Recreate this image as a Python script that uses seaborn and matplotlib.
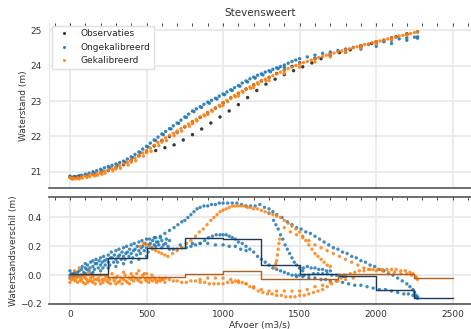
import matplotlib
matplotlib.use("Agg")
import matplotlib.pyplot as plt
from matplotlib.ticker import MultipleLocator
import pandas as pd
import seaborn as sns

# --- waterstand (top panel): (afvoer m3/s, waterstand m) ---
obs_main = [(0, 20.87), (30, 20.86), (60, 20.88), (100, 20.90), (150, 20.93), (200, 20.97),
            (250, 21.04), (300, 21.12), (350, 21.20), (400, 21.32), (450, 21.45), (500, 21.58),
            (550, 21.73), (600, 21.88), (650, 22.00), (700, 22.12), (750, 22.27), (800, 22.41),
            (850, 22.54), (900, 22.67), (950, 22.80), (1000, 22.95), (1050, 23.09), (1100, 23.22),
            (1150, 23.34), (1200, 23.46), (1250, 23.57), (1300, 23.67), (1350, 23.78), (1400, 23.88),
            (1450, 23.98), (1500, 24.08), (1600, 24.21), (1700, 24.34), (1800, 24.46), (1900, 24.57),
            (2000, 24.68), (2100, 24.79), (2200, 24.89), (2270, 24.96)]
obs_low = [(560, 21.60), (620, 21.68), (680, 21.76), (740, 21.90), (800, 22.05), (860, 22.21),
           (920, 22.38), (980, 22.55), (1040, 22.72), (1100, 22.90), (1160, 23.10), (1220, 23.30),
           (1280, 23.48), (1340, 23.62), (1400, 23.75), (1460, 23.86), (1520, 23.97), (1580, 24.08),
           (1640, 24.20), (1700, 24.29), (1760, 24.37), (1830, 24.45), (1900, 24.54), (1970, 24.63),
           (2050, 24.72), (2130, 24.82), (2200, 24.90)]

unc_main = [(0, 20.85), (25, 20.86), (50, 20.87), (75, 20.90), (100, 20.93), (125, 20.96), (150, 21.00),
            (175, 21.03), (200, 21.07), (225, 21.11), (250, 21.15), (275, 21.18), (300, 21.22),
            (325, 21.26), (350, 21.30), (375, 21.36), (400, 21.42), (425, 21.49), (450, 21.56),
            (475, 21.64), (500, 21.72), (525, 21.81), (550, 21.90), (575, 21.98), (600, 22.07),
            (625, 22.14), (650, 22.22), (675, 22.30), (700, 22.38), (725, 22.46), (750, 22.55),
            (775, 22.63), (800, 22.72), (825, 22.78), (850, 22.84), (875, 22.91), (900, 22.97),
            (925, 23.02), (950, 23.08), (975, 23.14), (1000, 23.20), (1025, 23.26), (1050, 23.32),
            (1075, 23.38), (1100, 23.44), (1125, 23.51), (1150, 23.57), (1175, 23.63), (1200, 23.68),
            (1225, 23.73), (1250, 23.77), (1275, 23.82), (1300, 23.86), (1325, 23.90), (1350, 23.94),
            (1375, 23.98), (1400, 24.02), (1425, 24.07), (1450, 24.12), (1475, 24.16), (1500, 24.20),
            (1550, 24.25), (1600, 24.30), (1650, 24.35), (1700, 24.39), (1750, 24.43), (1800, 24.47),
            (1850, 24.52), (1900, 24.56), (1950, 24.60), (2000, 24.64), (2050, 24.68), (2100, 24.72),
            (2150, 24.76), (2200, 24.79), (2250, 24.81), (2270, 24.82)]
unc_band = [(12, 20.82), (60, 20.85), (110, 20.90), (160, 20.96), (210, 21.03), (260, 21.11),
            (310, 21.18), (360, 21.27), (410, 21.40), (460, 21.54), (510, 21.70), (560, 21.88),
            (610, 22.05), (660, 22.21), (710, 22.37), (760, 22.54), (810, 22.70), (860, 22.82),
            (910, 22.94), (960, 23.06), (1010, 23.18), (1060, 23.30), (1110, 23.42), (1160, 23.54),
            (1210, 23.65), (1260, 23.74), (1310, 23.83), (1360, 23.92)]
unc_low = [(1400, 23.95), (1500, 24.08), (1600, 24.20), (1700, 24.30), (1800, 24.38), (1900, 24.47),
           (2000, 24.55), (2100, 24.63), (2200, 24.72), (2270, 24.78)]

cal_main = [(0, 20.84), (25, 20.82), (50, 20.83), (75, 20.85), (100, 20.88), (125, 20.90), (150, 20.92),
            (175, 20.95), (200, 20.98), (225, 21.01), (250, 21.05), (275, 21.09), (300, 21.13),
            (325, 21.17), (350, 21.22), (375, 21.27), (400, 21.33), (425, 21.39), (450, 21.46),
            (475, 21.53), (500, 21.60), (525, 21.67), (550, 21.75), (575, 21.83), (600, 21.90),
            (625, 21.96), (650, 22.03), (675, 22.09), (700, 22.15), (725, 22.22), (750, 22.28),
            (775, 22.35), (800, 22.42), (825, 22.48), (850, 22.55), (875, 22.61), (900, 22.68),
            (925, 22.74), (950, 22.81), (975, 22.88), (1000, 22.95), (1025, 23.02), (1050, 23.09),
            (1075, 23.16), (1100, 23.22), (1125, 23.28), (1150, 23.34), (1175, 23.40), (1200, 23.46),
            (1225, 23.52), (1250, 23.57), (1275, 23.62), (1300, 23.67), (1325, 23.72), (1350, 23.77),
            (1375, 23.82), (1400, 23.87), (1425, 23.92), (1450, 23.96), (1475, 24.01), (1500, 24.05),
            (1525, 24.09), (1550, 24.12), (1575, 24.16), (1600, 24.19), (1625, 24.23), (1650, 24.26),
            (1675, 24.30), (1700, 24.33), (1725, 24.36), (1750, 24.39), (1775, 24.42), (1800, 24.45),
            (1825, 24.48), (1850, 24.51), (1875, 24.54), (1900, 24.57), (1925, 24.60), (1950, 24.62),
            (1975, 24.65), (2000, 24.68), (2025, 24.70), (2050, 24.73), (2075, 24.76), (2100, 24.78),
            (2125, 24.81), (2150, 24.84), (2175, 24.86), (2200, 24.89), (2225, 24.91), (2250, 24.94),
            (2270, 24.96)]
cal_band = [(20, 20.79), (40, 20.80), (80, 20.82), (130, 20.86), (180, 20.90), (230, 20.96),
            (280, 21.03), (330, 21.10), (380, 21.19), (430, 21.31), (480, 21.44), (530, 21.58),
            (580, 21.74), (630, 21.88), (680, 22.02), (730, 22.15), (780, 22.29), (830, 22.44),
            (880, 22.58), (930, 22.71), (980, 22.85), (1030, 22.98), (1080, 23.12), (1130, 23.25),
            (1180, 23.36), (1230, 23.48), (1280, 23.58)]
cal_low = [(10, 20.80), (60, 20.80), (110, 20.84), (160, 20.88), (210, 20.93), (300, 21.08),
           (400, 21.27), (500, 21.54), (600, 21.84), (700, 22.10), (800, 22.36), (900, 22.62),
           (1000, 22.88), (1100, 23.14), (1200, 23.38), (1300, 23.58), (1400, 23.78), (1500, 23.96),
           (1600, 24.11), (1700, 24.25), (1800, 24.38), (1900, 24.50), (2000, 24.62), (2100, 24.74),
           (2200, 24.86)]

# --- waterstandsverschil (bottom panel): (afvoer m3/s, verschil m) ---
unc_cloud = [(0, 0.00), (0, 0.03), (0, -0.02), (10, 0.01), (20, -0.01), (25, 0.01), (30, 0.02),
             (40, 0.00), (50, 0.02), (50, -0.01), (60, 0.03), (70, 0.00), (75, 0.04), (80, 0.06),
             (90, 0.02), (100, 0.05), (100, 0.01), (100, 0.08), (110, 0.04), (115, 0.07), (125, 0.03),
             (130, 0.05), (135, 0.09), (140, 0.01), (150, 0.06), (150, 0.10), (150, 0.02), (160, 0.04),
             (165, 0.08), (170, 0.11), (175, 0.08), (185, 0.05), (190, 0.10), (200, 0.07), (200, 0.12),
             (200, 0.03), (210, 0.09), (215, 0.05), (220, 0.13), (225, 0.10), (230, 0.07), (240, 0.11),
             (250, 0.09), (250, 0.14), (250, 0.05), (260, 0.07), (265, 0.12), (270, 0.16), (275, 0.12),
             (285, 0.09), (290, 0.14), (300, 0.11), (300, 0.17), (300, 0.06), (310, 0.09), (315, 0.13),
             (320, 0.18), (325, 0.14), (335, 0.11), (340, 0.16), (350, 0.13), (350, 0.19), (350, 0.08),
             (360, 0.11), (365, 0.15), (370, 0.20), (375, 0.16), (385, 0.13), (390, 0.18), (400, 0.15),
             (400, 0.21), (400, 0.09), (410, 0.12), (415, 0.17), (420, 0.22), (425, 0.18), (435, 0.14),
             (440, 0.20), (450, 0.17), (450, 0.23), (450, 0.11), (460, 0.15), (465, 0.19), (470, 0.24),
             (475, 0.20), (485, 0.17), (490, 0.22), (500, 0.19), (500, 0.25), (500, 0.13), (510, 0.16),
             (515, 0.21), (520, 0.25), (525, 0.22), (535, 0.19), (540, 0.24), (550, 0.21), (550, 0.26),
             (560, 0.20), (565, 0.23), (575, 0.23), (580, 0.21), (590, 0.26), (600, 0.24), (600, 0.19),
             (610, 0.21), (625, 0.22), (630, 0.25), (640, 0.20), (650, 0.24)]
unc_top = [(560, 0.26), (590, 0.27), (620, 0.29), (650, 0.31), (680, 0.33), (705, 0.35), (730, 0.37),
           (750, 0.38), (770, 0.40), (790, 0.42), (810, 0.44), (830, 0.46), (850, 0.47), (875, 0.48),
           (900, 0.48), (925, 0.49), (950, 0.49), (975, 0.50), (1000, 0.50), (1030, 0.50), (1060, 0.50),
           (1090, 0.50), (1120, 0.49), (1150, 0.48), (1180, 0.48), (1210, 0.48), (1240, 0.49),
           (1270, 0.47), (1300, 0.43), (1330, 0.38), (1345, 0.35), (1360, 0.32), (1375, 0.28),
           (1390, 0.25), (1405, 0.21), (1420, 0.18), (1435, 0.15), (1450, 0.12), (1465, 0.09),
           (1480, 0.07), (1500, 0.05), (1520, 0.03)]
unc_fall = [(1300, 0.46), (1325, 0.44), (1350, 0.42), (1385, 0.40), (1420, 0.37), (1450, 0.35),
            (1480, 0.33), (1510, 0.32), (1540, 0.30), (1570, 0.29), (1600, 0.27), (1630, 0.25),
            (1660, 0.23), (1690, 0.21), (1720, 0.19), (1750, 0.18), (1780, 0.16), (1810, 0.15),
            (1840, 0.13), (1870, 0.12), (1900, 0.10), (1930, 0.09), (1960, 0.07), (1990, 0.06),
            (2020, 0.04), (2050, 0.03), (2080, 0.01), (2110, 0.00), (2140, -0.02), (2170, -0.04),
            (2200, -0.06), (2220, -0.08), (2240, -0.10), (2250, -0.12), (2260, -0.14)]
unc_mid = [(650, 0.18), (675, 0.18), (700, 0.18), (730, 0.19), (760, 0.19), (790, 0.20), (820, 0.21),
           (850, 0.22), (880, 0.24), (905, 0.26), (930, 0.27), (955, 0.28), (980, 0.28), (1000, 0.28),
           (1020, 0.28), (1040, 0.27), (1060, 0.26), (1080, 0.25), (1100, 0.23), (1125, 0.22),
           (1150, 0.20), (1175, 0.18), (1200, 0.16), (1225, 0.13), (1250, 0.11), (1275, 0.09),
           (1300, 0.07), (1325, 0.05), (1350, 0.04), (1375, 0.03), (1400, 0.02), (1425, 0.01),
           (1450, 0.00), (1475, 0.00), (1500, 0.00), (1530, 0.00), (1560, 0.00), (1590, 0.01),
           (1620, 0.01), (1650, 0.01), (1680, 0.01), (1710, 0.00), (1740, 0.00), (1760, 0.00),
           (1780, -0.01), (1790, 0.00), (1800, -0.01), (720, 0.21), (760, 0.22), (800, 0.22),
           (850, 0.22), (900, 0.22), (950, 0.21), (1000, 0.21), (1040, 0.20), (1080, 0.20),
           (1115, 0.18), (1150, 0.17), (1500, 0.05), (1525, 0.05), (1550, 0.06), (1575, 0.05),
           (1600, 0.05), (1625, 0.04), (1650, 0.04), (1675, 0.03), (1700, 0.03)]
unc_bottom = [(1480, -0.01), (1520, -0.01), (1560, -0.02), (1600, -0.02), (1640, -0.03), (1670, -0.03),
              (1700, -0.04), (1740, -0.04), (1780, -0.05), (1820, -0.06), (1860, -0.07), (1900, -0.07),
              (1940, -0.08), (1980, -0.09), (2020, -0.10), (2060, -0.10), (2100, -0.11), (2140, -0.12),
              (2180, -0.13), (2210, -0.13), (2240, -0.14), (2255, -0.15), (2270, -0.15), (2270, -0.16),
              (2260, -0.15)]

cal_cloud = [(0, -0.02), (0, -0.05), (10, -0.03), (20, -0.01), (25, -0.03), (30, 0.03), (35, -0.04),
             (40, -0.02), (50, -0.01), (50, -0.05), (60, 0.05), (65, -0.04), (70, -0.02), (75, -0.03),
             (85, -0.05), (90, -0.01), (100, -0.02), (100, -0.06), (110, -0.03), (115, -0.05),
             (120, 0.02), (125, -0.04), (135, -0.02), (140, -0.04), (150, -0.01), (150, -0.05),
             (160, -0.03), (165, -0.06), (175, -0.03), (185, -0.02), (190, -0.04), (200, 0.00),
             (200, -0.06), (210, -0.03), (215, -0.05), (225, -0.03), (235, -0.01), (240, -0.04),
             (250, -0.02), (250, -0.05), (260, -0.03), (265, -0.06), (275, 0.01), (285, -0.02),
             (290, -0.04), (300, -0.02), (300, -0.06), (310, -0.01), (315, -0.05), (325, -0.04),
             (335, -0.02), (340, -0.06), (350, 0.02), (350, -0.03), (360, 0.00), (365, -0.04),
             (375, -0.05), (385, -0.02), (390, -0.06), (400, 0.01), (400, -0.03), (410, -0.01),
             (415, -0.04), (425, -0.02), (435, 0.01), (440, -0.03), (450, 0.03), (450, -0.04),
             (460, -0.02), (465, -0.05), (475, 0.00), (485, 0.01), (490, -0.03), (500, 0.01),
             (500, -0.04), (510, -0.02), (515, -0.05), (525, -0.03), (535, 0.00), (540, -0.04),
             (550, -0.02), (560, -0.03), (565, -0.05), (575, -0.04), (585, -0.02), (590, -0.04),
             (600, -0.03), (610, -0.03), (620, -0.05), (625, -0.02)]
cal_top = [(460, 0.20), (480, 0.22), (500, 0.21), (520, 0.20), (540, 0.18), (560, 0.17), (580, 0.16),
           (600, 0.15), (620, 0.14), (640, 0.13), (670, 0.15), (700, 0.17), (730, 0.19), (760, 0.22),
           (790, 0.24), (820, 0.27), (845, 0.30), (870, 0.32), (895, 0.35), (920, 0.38), (940, 0.40),
           (960, 0.42), (980, 0.44), (1000, 0.45), (1020, 0.46), (1040, 0.47), (1060, 0.48),
           (1080, 0.48), (1100, 0.48), (1120, 0.48), (1140, 0.48), (1160, 0.47), (1180, 0.47),
           (1200, 0.46), (1225, 0.46), (1250, 0.45), (1275, 0.44), (1300, 0.43), (1325, 0.42),
           (1350, 0.41), (1375, 0.40), (1400, 0.38), (1425, 0.36), (1450, 0.34), (1475, 0.32),
           (1500, 0.30), (1520, 0.27), (1540, 0.24), (1560, 0.21), (1580, 0.18), (1600, 0.15),
           (1620, 0.13), (1640, 0.11), (1660, 0.09), (1680, 0.07), (1700, 0.06)]
cal_fall = [(1400, 0.33), (1440, 0.30), (1480, 0.28), (1520, 0.26), (1560, 0.24), (1600, 0.21),
            (1640, 0.19), (1680, 0.17), (1720, 0.15), (1760, 0.13), (1800, 0.11), (1840, 0.09),
            (1880, 0.07), (1920, 0.05), (1960, 0.04), (2000, 0.03), (2040, 0.03), (2080, 0.02),
            (2120, 0.02), (2160, 0.01), (2200, 0.01), (2230, 0.00), (2260, -0.02), (1340, 0.05),
            (1345, 0.08), (1350, 0.10), (1355, 0.14), (1360, 0.18), (1365, 0.22), (1370, 0.25)]
cal_bottom = [(650, -0.03), (675, -0.04), (700, -0.04), (730, -0.05), (760, -0.05), (790, -0.04),
              (820, -0.04), (850, -0.05), (880, -0.05), (910, -0.06), (940, -0.06), (970, -0.06),
              (1000, -0.06), (1030, -0.05), (1060, -0.05), (1080, -0.04), (1100, -0.04), (1125, -0.05),
              (1150, -0.06), (1175, -0.08), (1200, -0.09), (1230, -0.11), (1260, -0.12), (1290, -0.13),
              (1320, -0.13), (1350, -0.14), (1380, -0.14), (1410, -0.15), (1440, -0.15), (1470, -0.15),
              (1500, -0.14), (1530, -0.14), (1560, -0.13), (1590, -0.12), (1620, -0.11), (1650, -0.10),
              (1680, -0.08), (1710, -0.06), (1740, -0.04), (1770, -0.02), (1800, 0.00), (1830, 0.01),
              (1860, 0.02), (1890, 0.03), (1920, 0.03), (1950, 0.04), (1980, 0.04), (2010, 0.04),
              (2040, 0.04), (2070, 0.04), (2100, 0.04), (2130, 0.04), (2160, 0.03), (2190, 0.03),
              (2220, 0.02), (2240, 0.01), (2260, -0.01), (2270, -0.03), (850, -0.03), (900, -0.02),
              (950, -0.02), (1000, -0.02), (1050, -0.03), (1100, -0.05), (1150, -0.06), (1200, -0.08),
              (1250, -0.10), (1300, -0.11), (1350, -0.11), (1400, -0.11), (1450, -0.11), (1500, -0.11),
              (1550, -0.10), (1600, -0.08), (1650, -0.07), (1700, -0.05), (1750, -0.04), (1800, -0.03),
              (1850, -0.02)]

# gemiddeld verschil per afvoerklasse
bin_edges = [0, 250, 500, 750, 1000, 1250, 1500, 1750, 2000, 2250, 2500]
unc_bin_mean = [0.01, 0.12, 0.185, 0.26, 0.25, 0.07, 0.005, -0.005, -0.10, -0.155]
cal_bin_mean = [0.0, -0.01, -0.015, 0.01, 0.03, -0.03, -0.028, 0.008, 0.008, -0.02]

labels = ["Observaties", "Ongekalibreerd", "Gekalibreerd"]
colors = {"Observaties": "#222222", "Ongekalibreerd": "#1f77b4", "Gekalibreerd": "#ff7f0e"}


def to_frame(parts, label):
    rows = [pt for part in parts for pt in part]
    df = pd.DataFrame(rows, columns=["afvoer", "waarde"])
    df["reeks"] = label
    return df


top = pd.concat([
    to_frame([obs_main, obs_low], labels[0]),
    to_frame([unc_main, unc_band, unc_low], labels[1]),
    to_frame([cal_main, cal_band, cal_low], labels[2]),
], ignore_index=True)
bottom = pd.concat([
    to_frame([unc_cloud, unc_top, unc_fall, unc_mid, unc_bottom], labels[1]),
    to_frame([cal_cloud, cal_top, cal_fall, cal_bottom], labels[2]),
], ignore_index=True)

sns.set_style("whitegrid")
plt.rcParams["font.family"] = ["DejaVu Sans"]

fig = plt.figure(figsize=(4.71, 3.29), dpi=100)
ax1 = fig.add_axes([0.104, 0.4286, 0.896, 0.5015])
ax2 = fig.add_axes([0.104, 0.076, 0.896, 0.3243], sharex=ax1)

sns.scatterplot(data=top, x="afvoer", y="waarde", hue="reeks", hue_order=labels,
                palette=colors, s=6, linewidth=0, alpha=0.9, ax=ax1)
sns.scatterplot(data=bottom, x="afvoer", y="waarde", hue="reeks", hue_order=labels[1:],
                palette=colors, s=6, linewidth=0, alpha=0.85, ax=ax2, legend=False)

ax2.step(bin_edges, unc_bin_mean + [unc_bin_mean[-1]], where="post", color="#1c3a55", lw=1.0)
ax2.step(bin_edges, cal_bin_mean + [cal_bin_mean[-1]], where="post", color="#b0601c", lw=1.0)

sns.move_legend(ax1, "upper left", title=None, fontsize=6.5, frameon=True, markerscale=0.9,
                borderaxespad=0.3, handletextpad=0.8, labelspacing=0.5, edgecolor="#e0e0e0",
                framealpha=1.0, fancybox=False)

ax1.set_xlim(-137, 2619)
ax1.set_ylim(20.54, 25.21)
ax2.set_ylim(-0.2, 0.54)
ax1.xaxis.set_major_locator(MultipleLocator(500))
ax1.xaxis.set_minor_locator(MultipleLocator(100))
ax1.set_yticks([21, 22, 23, 24, 25])
ax2.set_yticks([-0.2, 0.0, 0.2, 0.4])

ax1.set_title("Stevensweert", fontsize=7.5, color="#333333", pad=5)
ax1.set_xlabel("")
ax1.set_ylabel("Waterstand (m)", fontsize=6.5, color="#333333")
ax2.set_xlabel("Afvoer (m3/s)", fontsize=6.5, color="#333333", labelpad=2)
ax2.set_ylabel("Waterstandsverschil (m)", fontsize=6.5, color="#333333")
ax1.yaxis.set_label_coords(-0.05, 0.5)
ax2.yaxis.set_label_coords(-0.073, 0.5)

for ax in (ax1, ax2):
    ax.grid(True, which="major", color="#e8e8e8", lw=1.2)
    ax.grid(False, which="minor")
    ax.tick_params(axis="x", which="both", bottom=False, top=True, direction="in",
                   length=2, width=0.7, color="#444444", labelsize=6.5, labelcolor="#333333", pad=4)
    ax.tick_params(axis="y", left=False, labelsize=6.5, labelcolor="#333333", pad=2)
    ax.spines["right"].set_visible(False)
    ax.spines["left"].set_color("#e6e6e6")
    ax.spines["bottom"].set_color("#555555")
    ax.spines["bottom"].set_linewidth(1.2)
ax1.spines["top"].set_visible(False)
ax2.spines["top"].set_color("#555555")
ax2.spines["top"].set_linewidth(1.2)
ax1.tick_params(axis="x", labelbottom=False)

fig.savefig("out.png", dpi=100)
